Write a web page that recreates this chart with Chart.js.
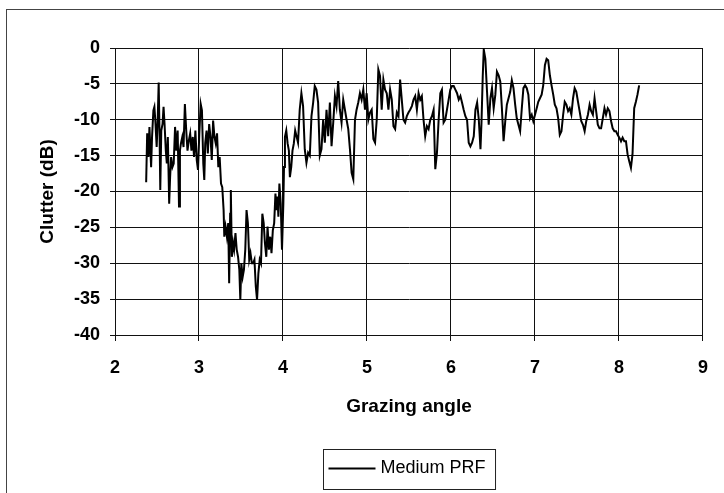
<!DOCTYPE html>
<html>
<head>
<meta charset="utf-8">
<script src="https://cdn.jsdelivr.net/npm/chart.js@4/dist/chart.umd.min.js"></script>
<style>
    html, body { margin: 0; padding: 0; background: #fff; overflow: hidden; }
    #wrap { position: relative; width: 724px; height: 493px; }
    #frame { position: absolute; left: 6px; top: 9px; width: 760px; height: 560px; border: 1px solid #444; }
    #chart { position: absolute; left: 0; top: 0; }
</style>
</head>
<body>
<div id="wrap">
    <div id="frame"></div>
    <canvas id="chart" width="724" height="493"></canvas>
</div>
<script>
// Grazing angle (deg)
const angles = [
    2.371, 2.383, 2.398, 2.410, 2.422, 2.430, 2.441, 2.457, 2.469, 2.480,
    2.496, 2.508, 2.520, 2.531, 2.539, 2.551, 2.566, 2.578, 2.590, 2.605,
    2.617, 2.629, 2.645, 2.656, 2.668, 2.684, 2.699, 2.715, 2.730, 2.746,
    2.762, 2.773, 2.785, 2.801, 2.816, 2.832, 2.848, 2.863, 2.879, 2.895,
    2.910, 2.926, 2.941, 2.957, 2.973, 2.988, 3.004, 3.020, 3.035, 3.051,
    3.063, 3.074, 3.090, 3.105, 3.121, 3.137, 3.152, 3.168, 3.184, 3.199,
    3.215, 3.230, 3.246, 3.262, 3.277, 3.293, 3.301, 3.316, 3.332, 3.348,
    3.359, 3.371, 3.379, 3.391, 3.406, 3.418, 3.434, 3.449, 3.465, 3.480,
    3.492, 3.504, 3.520, 3.535, 3.551, 3.566, 3.582, 3.598, 3.613, 3.629,
    3.645, 3.660, 3.676, 3.691, 3.707, 3.723, 3.738, 3.754, 3.770, 3.785,
    3.801, 3.816, 3.832, 3.848, 3.863, 3.879, 3.895, 3.910, 3.922, 3.934,
    3.945, 3.957, 3.973, 3.988, 4.004, 4.012, 4.023, 4.039, 4.055, 4.070,
    4.082, 4.098, 4.113, 4.129, 4.145,
    4.179, 4.199, 4.219, 4.239, 4.259, 4.279, 4.299, 4.319, 4.339, 4.359,
    4.378, 4.398, 4.418, 4.438, 4.458, 4.478, 4.498, 4.518, 4.538, 4.558,
    4.578, 4.598, 4.618, 4.637, 4.657, 4.677, 4.697, 4.717, 4.737, 4.757,
    4.777, 4.797, 4.817, 4.837, 4.857, 4.876, 4.896, 4.916, 4.936, 4.956,
    4.976, 4.996, 5.016, 5.036, 5.056, 5.076, 5.096, 5.116, 5.135, 5.155,
    5.175, 5.195, 5.215, 5.235, 5.255, 5.275, 5.295, 5.315, 5.335, 5.355,
    5.375, 5.394, 5.414, 5.434, 5.454, 5.474, 5.494, 5.514, 5.534, 5.554,
    5.574, 5.594, 5.614, 5.633, 5.653, 5.673, 5.693, 5.713, 5.733, 5.753,
    5.773, 5.793, 5.813, 5.833, 5.853, 5.873, 5.892, 5.912, 5.932, 5.952,
    5.972, 5.992, 6.012, 6.032, 6.052, 6.072, 6.092, 6.112, 6.131, 6.151,
    6.171, 6.191, 6.211, 6.231, 6.251, 6.271, 6.291, 6.311, 6.331, 6.351,
    6.363, 6.378, 6.390,
    6.409, 6.429, 6.449, 6.469, 6.488, 6.508, 6.528, 6.547, 6.567, 6.587,
    6.606, 6.626, 6.646, 6.665, 6.685, 6.705, 6.724, 6.744, 6.764, 6.783,
    6.803, 6.823, 6.843, 6.862, 6.882, 6.902, 6.921, 6.941, 6.961, 6.980,
    7.000, 7.020, 7.039, 7.059, 7.079, 7.098, 7.118, 7.138, 7.157, 7.177,
    7.197, 7.217, 7.236, 7.256, 7.276, 7.295, 7.315, 7.335, 7.354, 7.374,
    7.394, 7.413, 7.433, 7.453, 7.472, 7.492, 7.512, 7.531, 7.551, 7.571,
    7.591, 7.610, 7.630, 7.650, 7.669, 7.689, 7.709, 7.728, 7.748, 7.768,
    7.787, 7.807, 7.827, 7.846, 7.866, 7.886, 7.906, 7.925, 7.945, 7.965,
    7.984, 8.004, 8.024, 8.043, 8.063, 8.083, 8.102, 8.122, 8.142, 8.161,
    8.181, 8.201, 8.220, 8.240
];

// Clutter (dB), one value per angle
const clutter = [
    -18.7, -11.9, -15.2, -11.0, -14.3, -16.6, -12.4, -8.7, -8.2, -10.1,
    -13.8, -10.1, -4.8, -12.4, -19.8, -11.5, -10.6, -8.2, -10.6, -14.3,
    -16.1, -12.4, -21.7, -18.0, -15.2, -16.6, -16.1, -11.0, -14.3, -11.5,
    -22.1, -14.3, -13.3, -12.4, -13.8, -7.8, -11.5, -14.3, -12.9, -11.9,
    -14.3, -12.4, -15.2, -11.5, -15.6, -17.0, -11.9, -7.8, -8.7, -16.1,
    -18.4, -13.3, -11.5, -14.7, -10.6, -12.4, -15.6, -10.1, -12.4, -13.3,
    -11.9, -16.6, -15.2, -18.9, -19.4, -22.6, -26.3, -24.9, -26.3, -24.4,
    -32.8, -23.1, -19.8, -29.1, -27.2, -28.1, -25.8, -28.1, -29.1, -30.9,
    -35.1, -30.0, -31.9, -30.9, -28.1, -22.6, -24.4, -29.5, -28.6, -30.0,
    -30.0, -29.5, -33.2, -35.1, -31.4, -29.5, -30.0, -23.1, -24.4, -27.2,
    -29.1, -24.9, -28.1, -26.3, -28.6, -25.4, -24.4, -20.3, -22.6, -20.7,
    -23.5, -18.9, -21.7, -28.1, -21.7, -16.6, -12.4, -11.5, -13.3, -14.3,
    -18.0, -16.6, -14.3, -13.3, -11.5,
    -13.2, -8.6, -6.3, -8.1, -14.1, -16.0, -14.6, -15.0, -9.5, -7.6,
    -5.3, -5.8, -7.6, -15.0, -14.1, -10.0, -13.2, -8.6, -12.3, -7.6,
    -13.7, -10.4, -6.7, -8.1, -4.6, -8.6, -10.4, -7.2, -8.6, -10.0,
    -11.3, -14.1, -17.4, -18.3, -10.0, -8.6, -7.6, -6.3, -7.2, -5.8,
    -8.6, -6.3, -10.0, -9.0, -8.6, -12.7, -13.2, -10.0, -3.0, -3.9,
    -8.6, -4.4, -5.8, -6.3, -8.6, -5.8, -7.2, -10.9, -11.3, -9.0,
    -9.5, -4.4, -7.2, -10.0, -10.4, -9.5, -9.0, -8.6, -8.1, -7.2,
    -6.7, -8.6, -6.3, -7.2, -6.7, -10.0, -12.3, -10.9, -11.3, -10.0,
    -9.5, -8.6, -16.9, -14.6, -10.0, -6.3, -5.8, -10.4, -10.0, -8.6,
    -7.2, -5.8, -5.3, -5.3, -5.8, -6.3, -7.2, -6.7, -7.6, -8.6,
    -9.5, -10.0, -13.2, -13.7, -13.2, -12.3, -8.6, -7.6, -10.0, -14.1,
    -10.4, -3.9, -0.2,
    -1.5, -6.1, -10.7, -7.0, -5.6, -8.4, -6.5, -3.3, -3.8, -4.7,
    -8.4, -13.0, -10.2, -7.9, -7.0, -6.1, -4.5, -5.6, -7.9, -9.8,
    -10.7, -11.6, -8.4, -5.6, -5.2, -5.6, -6.5, -9.8, -9.3, -10.2,
    -9.3, -8.4, -7.5, -7.0, -6.5, -5.2, -2.4, -1.5, -1.7, -3.8,
    -5.2, -6.5, -7.9, -8.4, -9.8, -12.1, -11.6, -9.3, -7.5, -7.9,
    -8.8, -8.4, -9.3, -7.0, -5.6, -6.1, -7.5, -8.8, -10.2, -10.7,
    -11.6, -10.2, -9.3, -7.9, -8.8, -9.3, -7.0, -8.8, -10.7, -11.2,
    -11.2, -9.8, -8.4, -9.3, -8.4, -8.8, -10.2, -11.2, -11.6, -11.6,
    -12.1, -12.5, -13.0, -12.5, -13.0, -13.0, -14.8, -15.8, -16.7, -14.8,
    -8.4, -7.5, -6.5, -5.2
];

const seriesLabel = 'Medium PRF';
const xTitle = 'Grazing angle';
const yTitle = 'Clutter (dB)';

document.addEventListener('DOMContentLoaded', function () {
    const ctx = document.getElementById('chart').getContext('2d');
    const fontFamily = '"Liberation Sans", Arial, sans-serif';

    // Excel style boxed legend under the axis title
    const boxedLegend = {
        id: 'boxedLegend',
        afterDraw(chart) {
            const c = chart.ctx;
            const area = chart.chartArea;
            const label = chart.data.datasets[0].label;
            c.save();
            c.font = '18px ' + fontFamily;
            const textW = c.measureText(label).width;
            const lineLen = 47;
            const boxW = 5 + lineLen + 5 + textW + 10;
            const boxH = 40;
            const cx = (area.left + area.right) / 2;
            const left = Math.round(cx - boxW / 2) + 0.5;
            const top = 449.5;
            c.strokeStyle = '#222';
            c.lineWidth = 1;
            c.strokeRect(left, top, boxW, boxH);
            const midY = top + boxH / 2 - 1;
            c.beginPath();
            c.moveTo(left + 5, midY);
            c.lineTo(left + 5 + lineLen, midY);
            c.lineWidth = 1.8;
            c.strokeStyle = '#000';
            c.stroke();
            c.fillStyle = '#000';
            c.textBaseline = 'middle';
            c.fillText(label, left + 5 + lineLen + 5, midY);
            c.restore();
        }
    };

    new Chart(ctx, {
        type: 'line',
        data: {
            datasets: [{
                label: seriesLabel,
                data: angles.map((a, i) => ({ x: a, y: clutter[i] })),
                borderColor: '#000',
                borderWidth: 2,
                pointRadius: 0,
                tension: 0,
                fill: false
            }]
        },
        options: {
            responsive: false,
            animation: false,
            layout: { padding: { top: 48, right: 18, bottom: 0, left: 0 } },
            plugins: {
                legend: { display: false },
                tooltip: { enabled: false }
            },
            scales: {
                x: {
                    type: 'linear',
                    min: 2,
                    max: 9,
                    ticks: {
                        stepSize: 1,
                        color: '#000',
                        padding: 16,
                        font: { family: fontFamily, size: 18, weight: 'bold' }
                    },
                    grid: { color: '#111', lineWidth: 1, tickLength: 6 },
                    border: { color: '#111' },
                    title: {
                        display: true,
                        text: xTitle,
                        color: '#000',
                        padding: { top: 0, bottom: 75 },
                        font: { family: fontFamily, size: 19, weight: 'bold' }
                    },
                    afterFit(scale) { scale.height = 158; }
                },
                y: {
                    min: -40,
                    max: 0,
                    ticks: {
                        stepSize: 5,
                        color: '#000',
                        padding: 10,
                        font: { family: fontFamily, size: 18, weight: 'bold' }
                    },
                    grid: { color: '#111', lineWidth: 1, tickLength: 5 },
                    border: { color: '#111' },
                    title: {
                        display: true,
                        text: yTitle,
                        color: '#000',
                        padding: { top: 36, bottom: 0 },
                        font: { family: fontFamily, size: 19, weight: 'bold' }
                    },
                    afterFit(scale) { scale.width = 115; }
                }
            }
        },
        plugins: [boxedLegend]
    });
});
</script>
</body>
</html>
